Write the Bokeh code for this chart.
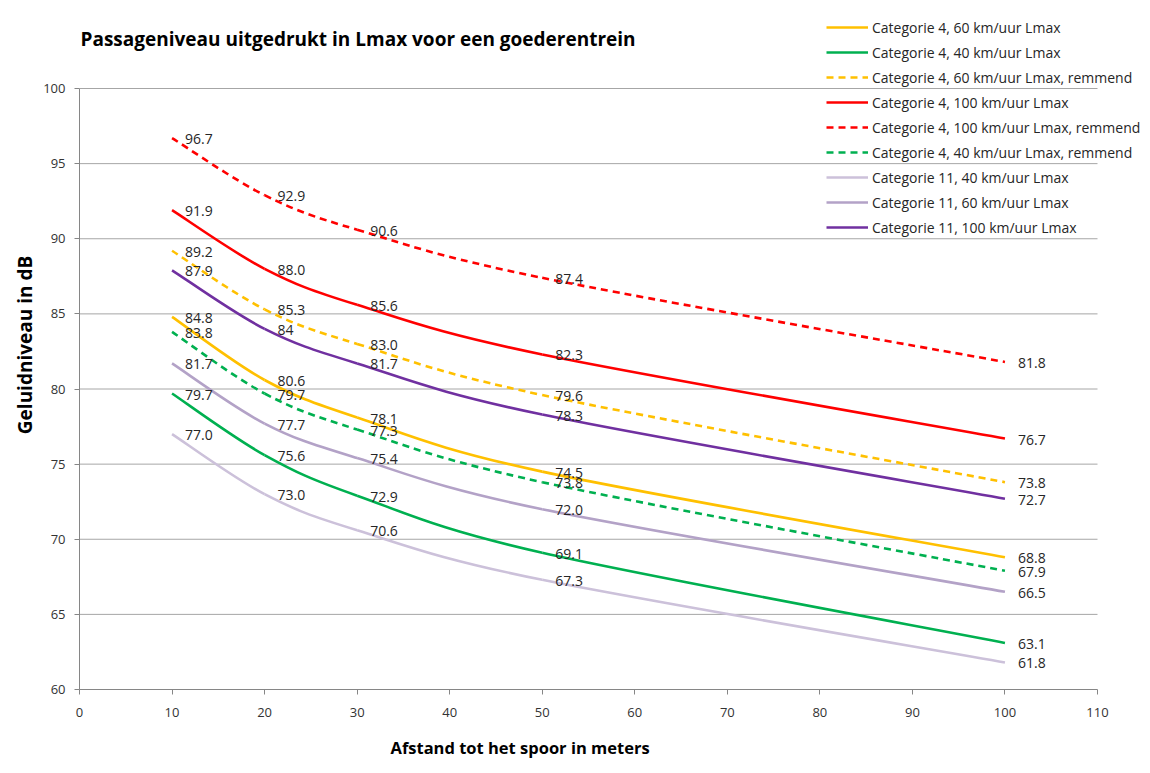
from bokeh.plotting import figure
from bokeh.models import ColumnDataSource, Legend, LegendItem, Label, Range1d, FixedTicker, Title
from bokeh.core.properties import value
from bokeh.embed import file_html
from bokeh.resources import INLINE

# ---- data ----
distance = [10, 20, 30, 50, 100]
series_names = [
    "Categorie 4, 60 km/uur Lmax",
    "Categorie 4, 40 km/uur Lmax",
    "Categorie 4, 60 km/uur Lmax, remmend",
    "Categorie 4, 100 km/uur Lmax",
    "Categorie 4, 100 km/uur Lmax, remmend",
    "Categorie 4, 40 km/uur Lmax, remmend",
    "Categorie 11, 40 km/uur Lmax",
    "Categorie 11, 60 km/uur Lmax",
    "Categorie 11, 100 km/uur Lmax",
]
cat4_60 = [84.8, 80.6, 78.1, 74.5, 68.8]
cat4_40 = [79.7, 75.6, 72.9, 69.1, 63.1]
cat4_60_rem = [89.2, 85.3, 83.0, 79.6, 73.8]
cat4_100 = [91.9, 88.0, 85.6, 82.3, 76.7]
cat4_100_rem = [96.7, 92.9, 90.6, 87.4, 81.8]
cat4_40_rem = [83.8, 79.7, 77.3, 73.8, 67.9]
cat11_40 = [77.0, 73.0, 70.6, 67.3, 61.8]
cat11_60 = [81.7, 77.7, 75.4, 72.0, 66.5]
cat11_100 = [87.9, 84, 81.7, 78.3, 72.7]
x_ticks = [0, 10, 20, 30, 40, 50, 60, 70, 80, 90, 100, 110]
y_ticks = [60, 65, 70, 75, 80, 85, 90, 95, 100]

series_values = [cat4_60, cat4_40, cat4_60_rem, cat4_100, cat4_100_rem,
                 cat4_40_rem, cat11_40, cat11_60, cat11_100]

# ---- styles ----
colors = ["#FFC000", "#00B050", "#FFC000", "#FF0000", "#FF0000",
          "#00B050", "#CCC1DA", "#B3A2C7", "#7030A0"]
dashes = ["solid", "solid", "7 5", "solid", "7 5", "7 5", "solid", "solid", "solid"]
FONT = "Open Sans"


def smooth_segments(xs, ys):
    n = len(xs)
    d = dict(x0=[], y0=[], x1=[], y1=[], cx0=[], cy0=[], cx1=[], cy1=[])
    for i in range(n - 1):
        xp, yp = (xs[i - 1], ys[i - 1]) if i > 0 else (xs[i], ys[i])
        xq, yq = (xs[i + 2], ys[i + 2]) if i + 2 < n else (xs[i + 1], ys[i + 1])
        d["x0"].append(xs[i]); d["y0"].append(ys[i])
        d["x1"].append(xs[i + 1]); d["y1"].append(ys[i + 1])
        d["cx0"].append(xs[i] + (xs[i + 1] - xp) / 6.0)
        d["cy0"].append(ys[i] + (ys[i + 1] - yp) / 6.0)
        d["cx1"].append(xs[i + 1] - (xq - xs[i]) / 6.0)
        d["cy1"].append(ys[i + 1] - (yq - ys[i]) / 6.0)
    return d


# layout (pixels)
LEFT = 79
FRAME_W, FRAME_H = 1063, 689
PLOT_W, PLOT_H = 1018, 601          # pixel span of the 0..110 / 60..100 area
x_end = x_ticks[0] + (x_ticks[-1] - x_ticks[0]) * FRAME_W / PLOT_W
y_end = y_ticks[0] + (y_ticks[-1] - y_ticks[0]) * FRAME_H / PLOT_H

p = figure(frame_width=FRAME_W, frame_height=FRAME_H, output_backend="svg",
           toolbar_location=None,
           x_range=Range1d(x_ticks[0], x_end), y_range=Range1d(y_ticks[0], y_end),
           min_border_left=LEFT, min_border_right=0, min_border_top=0,
           min_border_bottom=0)
p.outline_line_color = None
p.background_fill_color = "white"
p.border_fill_color = "white"
p.xgrid.grid_line_color = None
p.ygrid.grid_line_color = None

p.xaxis.ticker = FixedTicker(ticks=x_ticks)
p.yaxis.ticker = FixedTicker(ticks=y_ticks)
p.xaxis.bounds = (x_ticks[0], x_ticks[-1])
p.yaxis.bounds = (y_ticks[0], y_ticks[-1])
for ax in (p.xaxis, p.yaxis):
    ax.axis_line_color = "#868686"
    ax.major_tick_line_color = "#868686"
    ax.major_tick_out = 5
    ax.major_tick_in = 0
    ax.minor_tick_line_color = None
    ax.major_label_text_font = FONT
    ax.major_label_text_font_size = "13px"
    ax.major_label_text_color = "#333333"
p.xaxis.major_label_standoff = 13
p.yaxis.major_label_standoff = 9
p.yaxis.axis_label = "Geluidniveau in dB"
p.yaxis.axis_label_text_font = FONT
p.yaxis.axis_label_text_font_size = "19px"
p.yaxis.axis_label_text_font_style = "bold"
p.yaxis.axis_label_text_color = "#000000"
p.yaxis.axis_label_standoff = 2

# horizontal gridlines limited to the 0..110 span
p.segment(x0=[x_ticks[0]] * (len(y_ticks) - 1), x1=[x_ticks[-1]] * (len(y_ticks) - 1),
          y0=y_ticks[1:], y1=y_ticks[1:], line_color="#A6A6A6", line_width=1)

items = []
lab_x, lab_y, lab_t = [], [], []
for name, vals, col, dash in zip(series_names, series_values, colors, dashes):
    src = ColumnDataSource(smooth_segments(distance, vals))
    p.bezier(x0="x0", y0="y0", x1="x1", y1="y1", cx0="cx0", cy0="cy0",
             cx1="cx1", cy1="cy1", source=src, line_color=col,
             line_width=2.6, line_dash=dash)
    leg = p.line(x=distance, y=vals, line_color=col, line_width=2.6, line_dash=dash)
    leg.visible = False
    items.append(LegendItem(label=name, renderers=[leg]))
    for xv, yv in zip(distance, vals):
        lab_x.append(xv)
        lab_y.append(yv)
        lab_t.append(f"{yv:.1f}" if isinstance(yv, float) else str(yv))

p.text(x=lab_x, y=lab_y, text=lab_t, x_offset=13, y_offset=1,
       text_baseline="middle", text_align="left",
       text_font=value(FONT), text_font_size="14px", text_color="#262626")

legend = Legend(items=items, location=(747, 451), orientation="vertical",
                label_text_font=FONT, label_text_font_size="14px",
                label_text_color="#262626", label_height=22, glyph_height=22,
                glyph_width=42, label_standoff=4, spacing=3, padding=0, margin=0,
                border_line_color=None, background_fill_alpha=0)
p.add_layout(legend, "center")

p.add_layout(Label(x=1, y=FRAME_H - 38, x_units="screen", y_units="screen",
                   text="Passageniveau uitgedrukt in Lmax voor een goederentrein",
                   text_font=FONT, text_font_size="19px", text_font_style="bold",
                   text_baseline="middle", text_color="#000000"))

p.add_layout(Title(text="Afstand tot het spoor in meters", align="left", offset=311,
                   text_font=FONT, text_font_size="16.5px", text_font_style="bold",
                   text_color="#000000", standoff=29), "below")

open("out.html", "w").write(file_html(p, INLINE))
